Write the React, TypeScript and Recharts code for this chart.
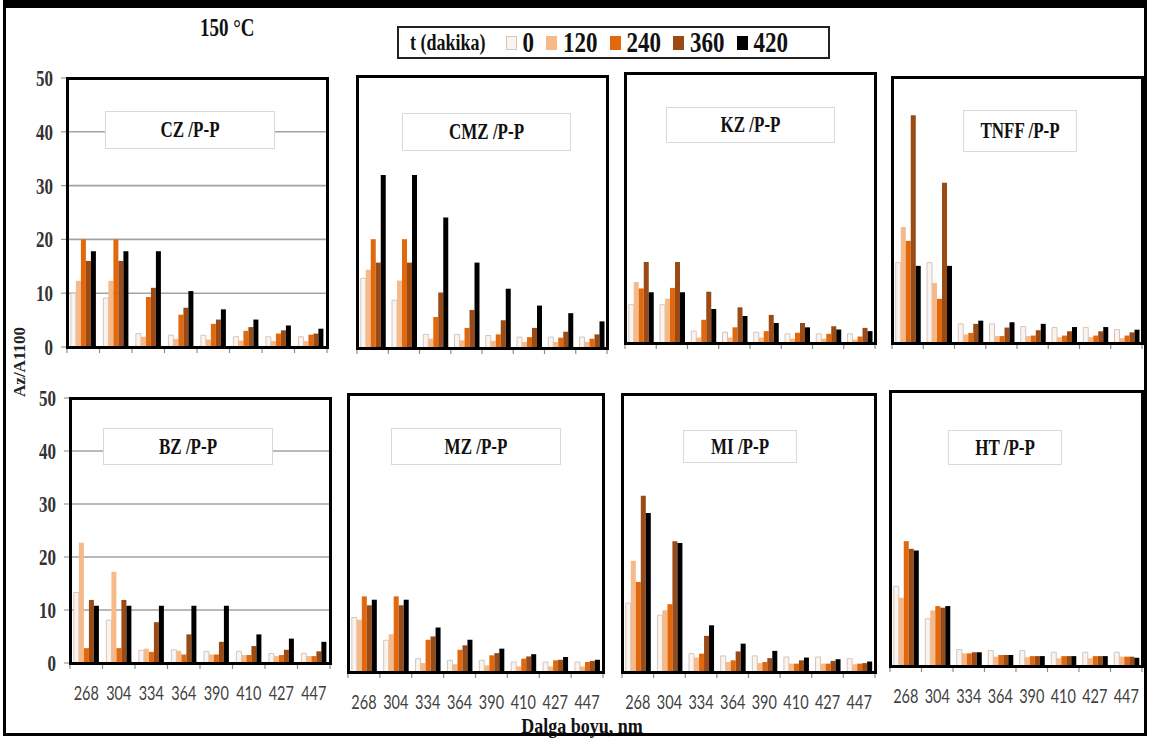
import React from "react";
import { BarChart, Bar, XAxis, YAxis, CartesianGrid } from "recharts";

const WAVELENGTHS = [268, 304, 334, 364, 390, 410, 427, 447];
const TIMES = ["0", "120", "240", "360", "420"];
const Y_TICKS = [0, 10, 20, 30, 40, 50];

// one row per time (0, 120, 240, 360, 420 dakika), one column per wavelength
const CZ = [
  [10, 9.1, 2.5, 2.2, 2.2, 1.9, 1.9, 1.9],
  [12.3, 12.3, 1.9, 1.5, 1.4, 1.2, 1.1, 1.1],
  [20, 20, 9.3, 6, 4.3, 3, 2.5, 2.3],
  [16, 16, 11, 7.3, 5.1, 3.7, 3.1, 2.5],
  [17.8, 17.8, 17.8, 10.4, 7, 5.1, 4, 3.4],
];
const CMZ = [
  [12.8, 8.8, 2.5, 2.5, 2.3, 2, 2, 2],
  [14.4, 12.4, 1.7, 1.4, 1.3, 1.1, 1.1, 1.1],
  [20, 20, 5.7, 3.7, 2.5, 2, 1.9, 1.7],
  [15.7, 15.7, 10.2, 7, 5.1, 3.7, 3, 2.5],
  [31.8, 31.8, 24, 15.7, 10.9, 7.8, 6.4, 4.9],
];
const KZ = [
  [7.1, 7.1, 2.2, 2, 2, 1.7, 1.7, 1.7],
  [11.3, 8.2, 1, 1, 1, 0.8, 0.8, 0.6],
  [10.1, 10.2, 4.3, 2.9, 2.2, 1.9, 1.7, 1.2],
  [15, 15, 9.5, 6.6, 5.2, 3.7, 3.1, 2.8],
  [9.4, 9.4, 6.3, 5, 3.7, 2.9, 2.5, 2.2],
];
const TNFF = [
  [15.1, 15.1, 3.6, 3.6, 3.1, 2.9, 2.9, 2.5],
  [21.8, 11.3, 1.6, 1.3, 1.3, 1.1, 1.1, 0.9],
  [19.2, 8.3, 1.9, 1.3, 1.4, 1.4, 1.4, 1.4],
  [42.8, 30.1, 3.6, 2.9, 2.4, 2.2, 2.2, 2],
  [14.5, 14.5, 4.2, 3.9, 3.6, 3, 3, 2.5],
];
const BZ = [
  [13.3, 8.1, 2.4, 2.5, 2.2, 2.2, 1.8, 1.8],
  [22.7, 17.2, 2.7, 2.3, 1.6, 1.5, 1.3, 1.3],
  [2.8, 2.8, 2.1, 1.6, 1.6, 1.5, 1.5, 1.3],
  [11.9, 11.9, 7.7, 5.4, 4, 3.2, 2.5, 2.2],
  [10.8, 10.8, 10.8, 10.8, 10.8, 5.4, 4.6, 4],
];
const MZ = [
  [9.8, 5.7, 2.4, 2.1, 2.1, 1.8, 1.8, 1.8],
  [9.4, 6.8, 1.6, 1.4, 1.2, 1, 1, 1],
  [13.6, 13.6, 5.8, 4, 3, 2.4, 2.1, 1.8],
  [12, 12, 6.4, 4.8, 3.4, 2.8, 2.2, 2],
  [13, 13, 8, 5.8, 4.2, 3.2, 2.7, 2.2],
];
const MI = [
  [12.4, 10.2, 3.3, 2.9, 2.9, 2.7, 2.7, 2.4],
  [20, 11.1, 2.6, 1.8, 1.6, 1.5, 1.5, 1.4],
  [16.2, 12.2, 3.3, 2.1, 1.8, 1.5, 1.5, 1.5],
  [31.7, 23.5, 6.5, 3.7, 2.5, 2.1, 2, 1.6],
  [28.6, 23.2, 8.4, 5.1, 3.8, 2.6, 2.3, 1.9],
];
const HT = [
  [14.5, 8.6, 3, 2.8, 2.8, 2.5, 2.5, 2.5],
  [12.4, 10.1, 2.3, 1.7, 1.6, 1.4, 1.4, 1.7],
  [22.7, 10.9, 2.3, 2, 1.8, 1.8, 1.8, 1.7],
  [21.3, 10.6, 2.5, 2, 1.8, 1.8, 1.8, 1.7],
  [21, 10.9, 2.5, 2, 1.8, 1.8, 1.8, 1.5],
];

const SAMPLES = ["CZ", "CMZ", "KZ", "TNFF", "BZ", "MZ", "MI", "HT"];
const VALUES = [CZ, CMZ, KZ, TNFF, BZ, MZ, MI, HT];

const COLORS = ["#fbf3ee", "#f6b98a", "#e2680e", "#9a4a14", "#000000"];
const SERIF = "'Liberation Serif', 'Times New Roman', serif";

// plot frames (x, y, w, h) and title boxes, row by row
const FRAMES = [
  { x: 67, y: 78, w: 260, h: 269 },
  { x: 357, y: 76, w: 250, h: 272 },
  { x: 625, y: 73, w: 250, h: 270 },
  { x: 892, y: 77, w: 250, h: 266 },
  { x: 70, y: 398, w: 260, h: 265 },
  { x: 348, y: 394, w: 255, h: 278 },
  { x: 622, y: 394, w: 253, h: 278 },
  { x: 890, y: 391, w: 252, h: 275 },
];
const TITLE_BOXES = [
  { x: 105, y: 111, w: 170, h: 38 },
  { x: 402, y: 113, w: 169, h: 38 },
  { x: 666, y: 107, w: 169, h: 36 },
  { x: 963, y: 110, w: 114, h: 42 },
  { x: 103, y: 428, w: 170, h: 37 },
  { x: 391, y: 428, w: 170, h: 37 },
  { x: 683, y: 430, w: 114, h: 33 },
  { x: 948, y: 430, w: 114, h: 35 },
];

const buildRows = (vals: number[][]) =>
  WAVELENGTHS.map((nm, i) => {
    const row: Record<string, number> = { nm };
    TIMES.forEach((t, k) => {
      row["t" + t] = vals[k][i];
    });
    return row;
  });

const Panel = ({ idx }: { idx: number }) => {
  const f = FRAMES[idx];
  const tb = TITLE_BOXES[idx];
  const col = idx % 4;
  const bottomRow = idx >= 4;
  const yw = col === 0 ? 60 : 6;
  const xh = bottomRow ? 45 : 12;
  const top = 18;
  const right = 6;
  const bw = f.w / WAVELENGTHS.length;
  const data = buildRows(VALUES[idx]);

  const xTick = (p: any) => {
    const bx = p.x - bw / 2;
    return (
      <g>
        <line x1={bx} x2={bx} y1={p.y - 6} y2={p.y} stroke="#8c8c8c" strokeWidth={1.2} />
        {p.index === WAVELENGTHS.length - 1 && (
          <line x1={bx + bw} x2={bx + bw} y1={p.y - 6} y2={p.y} stroke="#8c8c8c" strokeWidth={1.2} />
        )}
        {bottomRow && (
          <text
            transform={`translate(${p.x},${p.y + 31}) scale(1,1.3)`}
            textAnchor="middle"
            fontFamily="Lato, sans-serif"
            fontSize={14.5}
            fill="#3f3f3f"
          >
            {p.payload.value}
          </text>
        )}
      </g>
    );
  };

  const yTick = (p: any) => (
    <text
      transform={`translate(${p.x},${p.y}) scale(1,1.3)`}
      dy="0.36em"
      textAnchor="end"
      fontFamily={SERIF}
      fontWeight={700}
      fontSize={17}
      fill="#333"
    >
      {p.payload.value}
    </text>
  );

  return (
    <>
      <div style={{ position: "absolute", left: f.x - yw, top: f.y - top }}>
        <BarChart
          width={yw + f.w + right}
          height={top + f.h + xh}
          data={data}
          margin={{ top, right, bottom: 0, left: 0 }}
          barGap={0}
          barCategoryGap="12%"
        >
          <CartesianGrid vertical={false} stroke="#a3a3a3" strokeWidth={1.6} />
          <XAxis
            dataKey="nm"
            height={xh}
            axisLine={false}
            tickLine={false}
            tickSize={6}
            tickMargin={0}
            interval={0}
            tick={xTick}
          />
          <YAxis
            domain={[0, 50]}
            ticks={Y_TICKS}
            width={yw}
            axisLine={false}
            tickSize={6}
            tickMargin={8}
            tickLine={{ stroke: "#999", strokeWidth: 1.2 }}
            tick={col === 0 ? yTick : false}
          />
          {TIMES.map((t, k) => (
            <Bar
              key={t}
              dataKey={"t" + t}
              fill={COLORS[k]}
              stroke={k === 0 ? "#d4c6be" : "none"}
              strokeWidth={1}
              isAnimationActive={false}
            />
          ))}
        </BarChart>
      </div>
      <div
        style={{
          position: "absolute",
          left: f.x - 1.5,
          top: f.y - 1.5,
          width: f.w + 3,
          height: f.h + 3,
          border: "3px solid #000",
          boxSizing: "border-box",
          pointerEvents: "none",
        }}
      />
      <div
        style={{
          position: "absolute",
          left: tb.x,
          top: tb.y,
          width: tb.w,
          height: tb.h,
          background: "#fff",
          border: "1px solid #d9d9d9",
          boxSizing: "border-box",
          display: "flex",
          alignItems: "center",
          justifyContent: "center",
        }}
      >
        <span
          style={{
            fontFamily: SERIF,
            fontWeight: 700,
            fontSize: 17,
            color: "#111",
            display: "inline-block",
            transform: "scaleY(1.35)",
          }}
        >
          {SAMPLES[idx]} /P-P
        </span>
      </div>
    </>
  );
};

const Legend = () => (
  <div
    style={{
      position: "absolute",
      left: 397,
      top: 26,
      width: 433,
      height: 33,
      border: "2px solid #222",
      boxSizing: "border-box",
      display: "flex",
      alignItems: "center",
      paddingLeft: 11,
      fontFamily: SERIF,
      fontWeight: 700,
      color: "#111",
    }}
  >
    <span
      style={{
        fontSize: 18,
        display: "inline-block",
        transform: "scaleY(1.3)",
        marginRight: 20,
        whiteSpace: "pre",
      }}
    >
      t (dakika)
    </span>
    {TIMES.map((t, k) => (
      <span key={t} style={{ display: "inline-flex", alignItems: "center", marginRight: 12 }}>
        <span
          style={{
            width: 11,
            height: 14,
            background: COLORS[k],
            border: k === 0 ? "1px solid #d4c6be" : "none",
            boxSizing: "border-box",
            marginRight: 6,
          }}
        />
        <span style={{ fontSize: 23, display: "inline-block", transform: "scaleY(1.25)" }}>{t}</span>
      </span>
    ))}
  </div>
);

export default function App() {
  return (
    <div
      style={{
        position: "absolute",
        left: 0,
        top: 0,
        width: 1150,
        height: 738,
        background: "#fff",
        overflow: "hidden",
      }}
    >
      <div
        style={{
          position: "absolute",
          left: 3,
          top: 0,
          width: 1144,
          height: 736,
          borderTop: "8px solid #000",
          borderLeft: "3px solid #000",
          borderRight: "3px solid #000",
          borderBottom: "3px solid #000",
          boxSizing: "border-box",
        }}
      />
      {SAMPLES.map((s, i) => (
        <Panel key={s} idx={i} />
      ))}
      <Legend />
      <div
        style={{
          position: "absolute",
          left: 200,
          top: 17,
          fontFamily: SERIF,
          fontWeight: 700,
          fontSize: 19,
          color: "#111",
          transform: "scaleY(1.3)",
        }}
      >
        150 °C
      </div>
      <div
        style={{
          position: "absolute",
          left: 20,
          top: 362,
          fontFamily: SERIF,
          fontWeight: 700,
          fontSize: 17,
          color: "#222",
          whiteSpace: "nowrap",
          transform: "translate(-50%, -50%) rotate(-90deg)",
        }}
      >
        Az/A1100
      </div>
      <div
        style={{
          position: "absolute",
          left: 582,
          top: 727,
          fontFamily: SERIF,
          fontWeight: 700,
          fontSize: 18,
          color: "#111",
          whiteSpace: "nowrap",
          transform: "translate(-50%, -50%) scaleY(1.15)",
        }}
      >
        Dalga boyu, nm
      </div>
    </div>
  );
}
